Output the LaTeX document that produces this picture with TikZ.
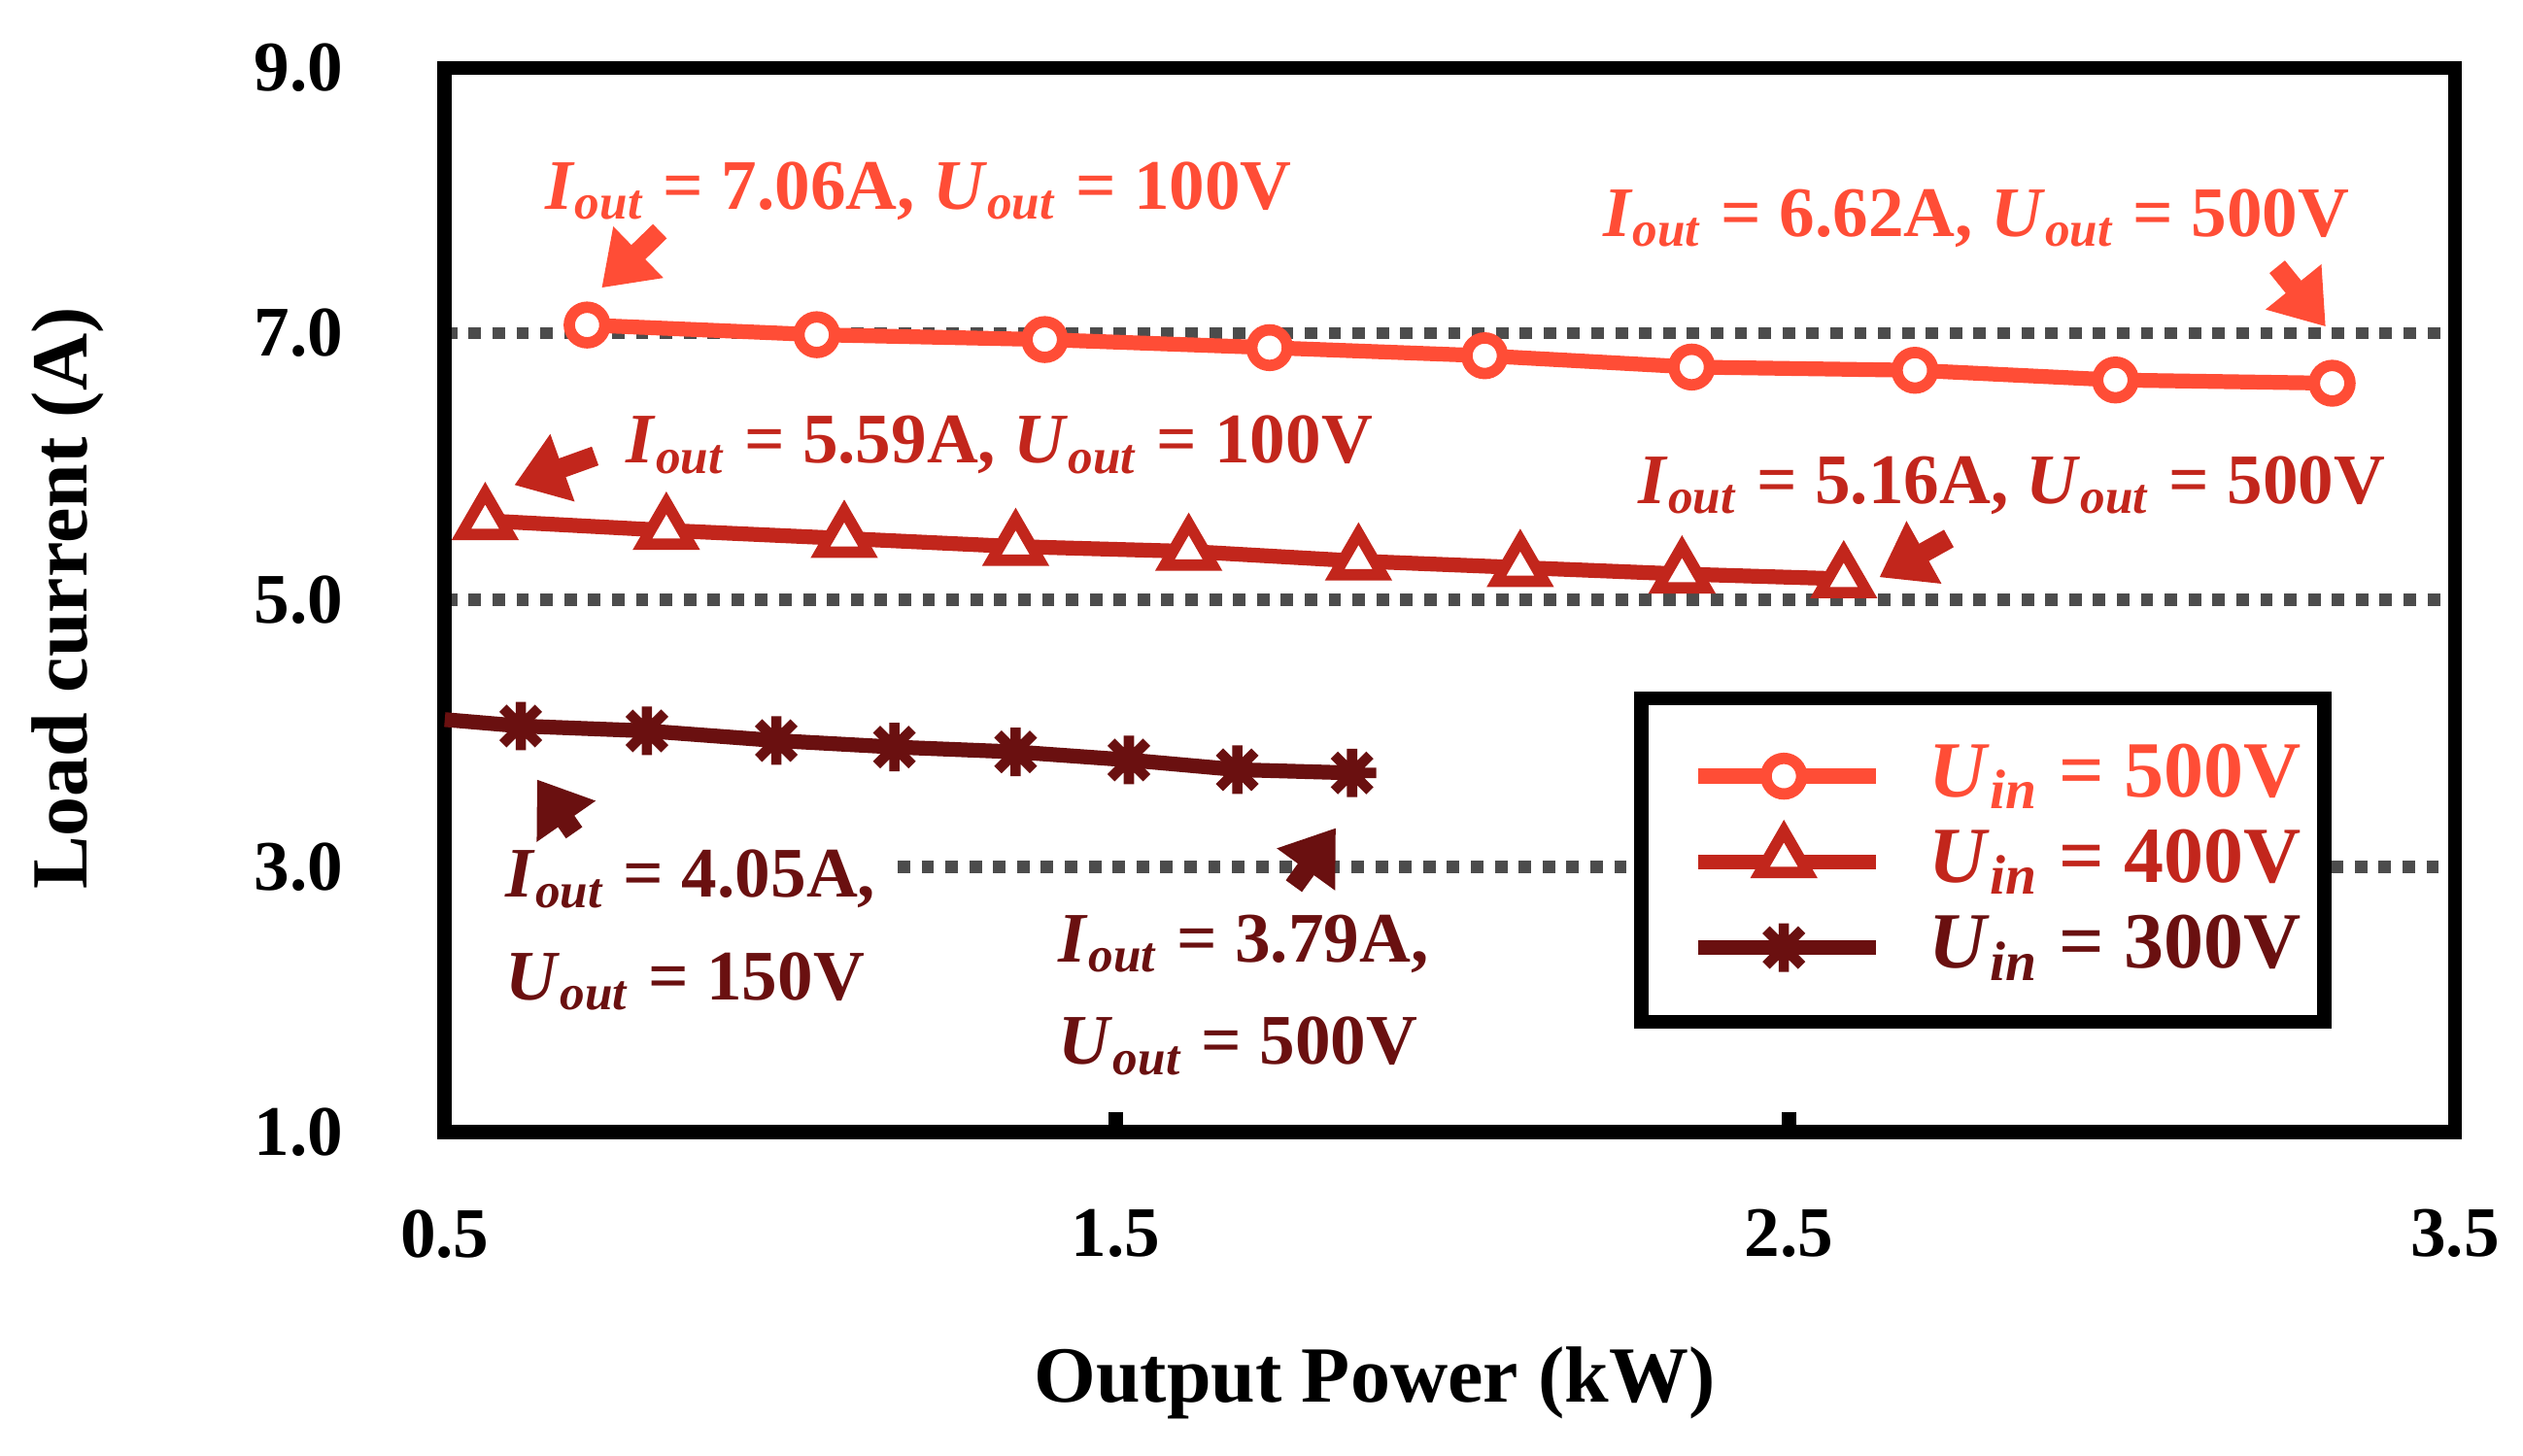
\documentclass[tikz,border=0pt]{standalone}
\usepackage{fontspec}
\setmainfont{Liberation Serif}
\usetikzlibrary{arrows.meta,shapes.geometric}
\definecolor{cA}{HTML}{FF4D36}
\definecolor{cB}{HTML}{C2261C}
\definecolor{cC}{HTML}{6A1010}
\newcommand\myI{\textit{I}\textsubscript{\textit{out}}}
\newcommand\myU{\textit{U}\textsubscript{\textit{out}}}
\newcommand\myUin{\textit{U}\textsubscript{\textit{in}}}
\begin{document}
\begin{tikzpicture}[x=0.01cm,y=-0.01cm,font=\bfseries\fontsize{12.5}{15}\selectfont,
 grid/.style={line width=2.2pt,dotted,gray!60!black},
 ser/.style={line width=2.6pt},
 circ/.style={circle,draw=cA,fill=white,line width=2pt,minimum size=0.22cm,inner sep=0},
 tri/.style={regular polygon,regular polygon sides=3,draw=cB,fill=white,line width=2pt,minimum size=0.34cm,inner sep=0},
 ann/.style={line width=3.5pt,-{Triangle[length=9pt,width=12pt]}},
 lbl/.style={inner sep=0}]
\useasboundingbox (0,0) rectangle (1560,900);
% grid
\draw[grid] (275,206) -- (1518,206);
\draw[grid] (275,371) -- (1518,371);
\draw[grid] (555,536) -- (1518,536);
% frame
\draw[line width=2.5pt] (275,42) rectangle (1518,700);
\draw[line width=2.5pt] (690,700) -- (690,688) (1106,700) -- (1106,688);
% tick labels
\foreach \y/\t in {42/9.0,206/7.0,371/5.0,536/3.0,700/1.0}
  \node[anchor=east,lbl] (yl\t) at (213,\y) {\t};
\foreach \x/\t in {275/0.5,690/1.5,1106/2.5,1518/3.5}
  \node[lbl] (xl\t) at (\x,763) {\t};
\node[rotate=90,lbl,font=\bfseries\fontsize{14}{16}\selectfont] (yt) at (42,370) {Load current (A)};
\node[lbl,font=\bfseries\fontsize{14}{16}\selectfont] (xt) at (850,855) {Output Power (kW)};
% series 500
\draw[ser,cA] (363,201)--(505,207)--(646,210)--(785,215)--(918,220)--(1046,227)--(1184,229)--(1308,235)--(1442,237);
\foreach \x/\y [count=\i] in {363/201,505/207,646/210,785/215,918/220,1046/227,1184/229,1308/235,1442/237}
  \node[circ] (a\i) at (\x,\y) {};
% series 400
\draw[ser,cB] (300,322)--(412,328)--(522,333)--(628,338)--(735,341)--(840,347)--(940,351)--(1040,355)--(1140,358);
\foreach \x/\y [count=\i] in {300/322,412/328,522/333,628/338,735/341,840/347,940/351,1040/355,1140/358}
  \node[tri] (b\i) at (\x,\y) {};
% series 300
\draw[ser,cC] (275,445)--(322,449)--(400,452)--(480,458)--(553,462)--(628,465)--(698,470)--(765,476)--(836,478);
\foreach \x/\y [count=\i] in {322/449,400/452,480/458,553/462,628/465,698/470,765/476,836/478}{
  \coordinate (c\i) at (\x,\y);
  \draw[cC,line width=1.8pt] (\x-15,\y)--(\x+15,\y) (\x-11,\y-11)--(\x+11,\y+11) (\x-11,\y+11)--(\x+11,\y-11) (\x,\y-15)--(\x,\y+15);}
% annotations
\node[lbl,text=cA] (t1) at (568,118) {\myI{} = 7.06A, \myU{} = 100V};
\coordinate (s1) at (408,143); \draw[ann,cA] (s1) -- (372,178);
\node[lbl,text=cA] (t2) at (1222,135) {\myI{} = 6.62A, \myU{} = 500V};
\coordinate (s2) at (1408,165); \draw[ann,cA] (s2) -- (1438,202);
\node[lbl,text=cB] (t3) at (618,275) {\myI{} = 5.59A, \myU{} = 100V};
\coordinate (s3) at (368,282); \draw[ann,cB] (s3) -- (318,300);
\node[lbl,text=cB] (t4) at (1244,300) {\myI{} = 5.16A, \myU{} = 500V};
\coordinate (s4) at (1205,333); \draw[ann,cB] (s4) -- (1162,357);
\node[lbl,text=cC,anchor=north west,align=left] (t5) at (312,525) {\myI{} = 4.05A,\\[3pt]\myU{} = 150V};
\coordinate (s5) at (355,515); \draw[ann,cC] (s5) -- (332,482);
\node[lbl,text=cC,anchor=north west,align=left] (t6) at (654,565) {\myI{} = 3.79A,\\[3pt]\myU{} = 500V};
\coordinate (s6) at (800,548); \draw[ann,cC] (s6) -- (826,512);
% legend
\draw[line width=2.5pt,fill=white] (1015,432) rectangle (1437,632);
\draw[ser,cA] (1050,480)--(1160,480); \node[circ] (la) at (1103,480) {};
\draw[ser,cB] (1050,533)--(1160,533); \node[tri] (lb) at (1103,531) {};
\draw[ser,cC] (1050,586)--(1160,586);
\draw[cC,line width=1.8pt] (1088,586)--(1118,586) (1092,575)--(1114,597) (1092,597)--(1114,575) (1103,571)--(1103,601);
\node[lbl,anchor=west,text=cA,font=\bfseries\fontsize{14}{16}\selectfont] (l1) at (1192,480) {\myUin{} = 500V};
\node[lbl,anchor=west,text=cB,font=\bfseries\fontsize{14}{16}\selectfont] (l2) at (1192,533) {\myUin{} = 400V};
\node[lbl,anchor=west,text=cC,font=\bfseries\fontsize{14}{16}\selectfont] (l3) at (1192,586) {\myUin{} = 300V};
\end{tikzpicture}
\end{document}
